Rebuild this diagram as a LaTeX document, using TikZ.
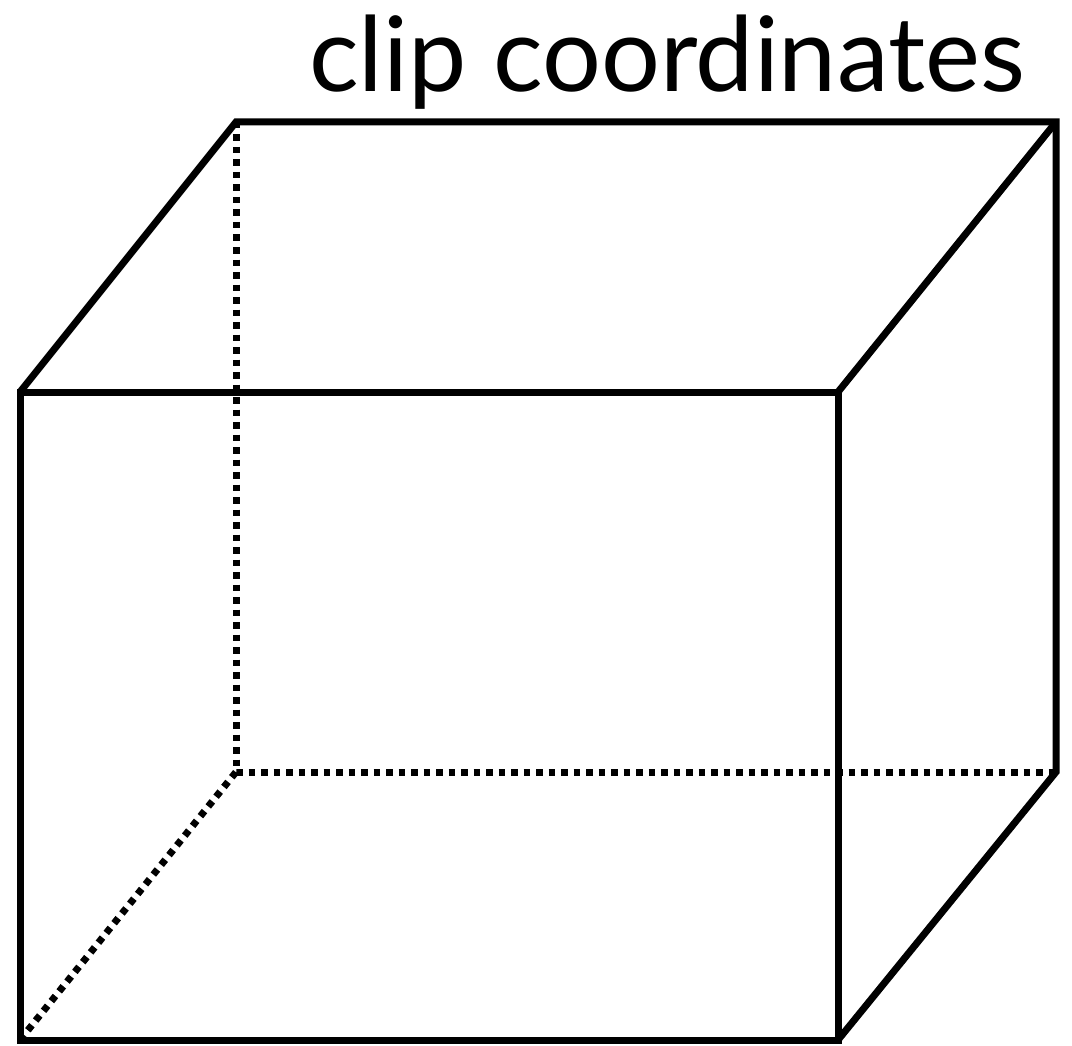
\documentclass[tikz,border=0pt]{standalone}
\usepackage{fontspec}
\setmainfont{Lato}
\begin{document}
\begin{tikzpicture}[x=1pt,y=-1pt,
  edge/.style={line width=7pt,line join=miter,line cap=butt},
  hidden/.style={line width=7pt,dash pattern=on 6.5pt off 6pt},
  title/.style={font=\fontsize{104}{110}\selectfont,inner sep=0pt,anchor=base east}]
\useasboundingbox (0,0) rectangle (1072,1046);
% front face
\coordinate (A) at (20,392);
\coordinate (B) at (838,392);
\coordinate (C) at (838,1040);
\coordinate (D) at (20,1040);
% back face
\coordinate (E) at (236,122);
\coordinate (F) at (1056,122);
\coordinate (G) at (1056,772);
\coordinate (H) at (236,772);
\draw[hidden] (E) -- (H) -- (G);
\draw[hidden] (D) -- (H);
\draw[edge] (A) -- (B) -- (C) -- (D) -- cycle;
\draw[edge] (A) -- (E) -- (F) -- (G) -- (C);
\draw[edge] (B) -- (F);
\node[title] (T) at (1025,92) {clip coordinates};
\end{tikzpicture}
\end{document}
